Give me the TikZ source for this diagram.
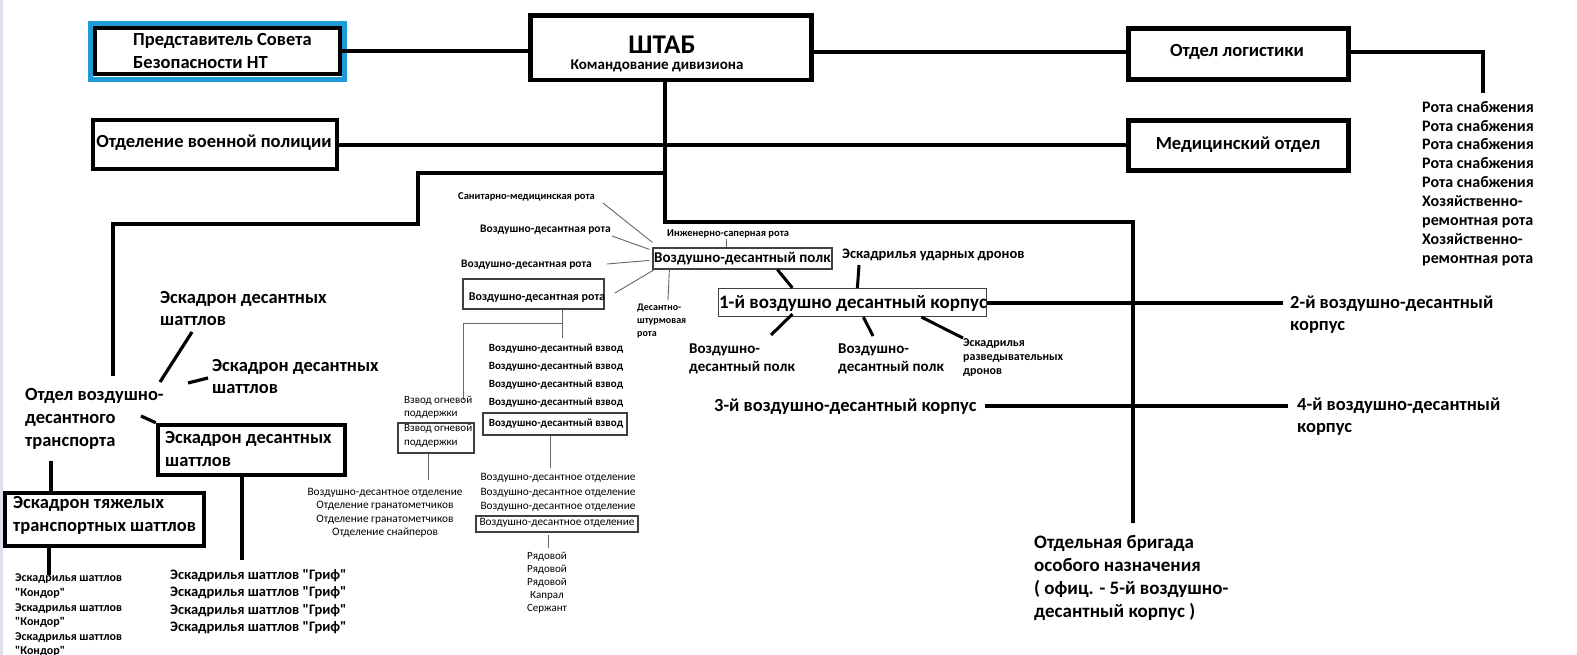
\documentclass[tikz,border=0pt]{standalone}
\usepackage{fontspec}
\setmainfont{Carlito}[Ligatures=TeXOff]
\newcommand\myfs[1]{\fontsize{#1}{#1}\selectfont}
\newcommand\mlines[7]{\foreach \lbl [count=\i from 0] in {#7} {\node[#1, anchor=#2] (#3\i) at (#4, #5+\i*#6) {\lbl};}}
\definecolor{repblue}{RGB}{30,155,215}
\definecolor{edgecol}{RGB}{220,226,236}
\begin{document}
\begin{tikzpicture}[x=1pt,y=-1pt,
  lblb/.style={font=\myfs{#1}\bfseries, inner sep=0pt, yshift={-0.32*#1*1pt}},
  lblr/.style={font=\myfs{#1}, inner sep=0pt, yshift={-0.32*#1*1pt}},
  hbox/.style={draw, line width=4.8pt, inner sep=0pt},
  sbox/.style={draw=black!75, line width=1.2pt, inner sep=0pt},
  conn/.style={line width=4.8pt},
  mconn/.style={line width=3.2pt},
  fconn/.style={line width=0.9pt, draw=black!60}]
\useasboundingbox (0,0) rectangle (1577,655);
\fill[white] (0,0) rectangle (1577,655);
\fill[edgecol] (0,0) rectangle (3,655);

% ---------- top row ----------
\node[draw=repblue, line width=5pt, inner sep=0pt, minimum width=254pt, minimum height=56pt] (repframe) at (217.5,51.5) {};
\node[hbox, line width=4.5pt, minimum width=245pt, minimum height=46pt] (rep) at (217.5,51) {};
\mlines{lblb=18.5}{base west}{rept}{133}{40}{23}{Представитель Совета,Безопасности НТ}

\node[hbox, minimum width=281pt, minimum height=64.5pt] (shtab) at (671,47.75) {};
\node[lblb=27, anchor=base] (shtabT) at (662,45) {ШТАБ};
\node[lblb=15, anchor=base] (shtabS) at (657,65) {Командование дивизиона};

\node[hbox, minimum width=220.5pt, minimum height=51.5pt] (log) at (1238.5,54) {};
\node[lblb=18.5, anchor=base] (logT) at (1237,51) {Отдел логистики};

\node[hbox, minimum width=244pt, minimum height=49pt] (mp) at (215,144.5) {};
\node[lblb=18.5, anchor=base] (mpT) at (214,142) {Отделение военной полиции};

\node[hbox, minimum width=220.5pt, minimum height=50.5pt] (med) at (1238.5,145.5) {};
\node[lblb=18.5, anchor=base] (medT) at (1238,144) {Медицинский отдел};

\mlines{lblb=16}{base west}{sup}{1422}{107}{18.9}{Рота снабжения,Рота снабжения,Рота снабжения,Рота снабжения,Рота снабжения,Хозяйственно-,ремонтная рота,Хозяйственно-,ремонтная рота}

% ---------- main connectors ----------
\coordinate (lg1) at (1483,52);
\coordinate (logend) at (1483,93);
\coordinate (mpy) at (0,145);
\coordinate (v1) at (665,222);
\coordinate (v2) at (1133,222);
\coordinate (brigtop) at (1133,523);
\coordinate (h1) at (665,173);
\coordinate (h2) at (418,173);
\coordinate (h3) at (418,224);
\coordinate (h4) at (113,224);
\coordinate (adtTop) at (113,376);

\draw[conn] (rep.east) -- (rep.east -| shtab.west);
\draw[conn] (shtab.east |- lg1) -- (log.west |- lg1);
\draw[conn] (log.east |- lg1) -- (lg1) -- (logend);
\draw[conn] (mp.east |- mpy) -- (med.west |- mpy);
\draw[conn] (shtab.south -| v1) -- (v1) -- (v2) -- (brigtop);
\draw[conn] (h1) -- (h2) -- (h3) -- (h4) -- (adtTop);

% ---------- left: air transport ----------
\mlines{lblb=18.5}{base west}{adt}{25}{395}{23}{Отдел воздушно-,десантного,транспорта}
\mlines{lblb=18.5}{base west}{esA}{160}{298}{22}{Эскадрон десантных,шаттлов}
\mlines{lblb=18.5}{base west}{esB}{212}{366}{22}{Эскадрон десантных,шаттлов}
\node[hbox, line width=4.5pt, minimum width=187pt, minimum height=50pt] (esC) at (251.5,450) {};
\mlines{lblb=18.5}{base west}{esCt}{165}{438}{23}{Эскадрон десантных,шаттлов}
\node[hbox, line width=4.5pt, minimum width=199pt, minimum height=53pt] (heavy) at (104.5,519.5) {};
\mlines{lblb=18.5}{base west}{heavyt}{13}{503}{23}{Эскадрон тяжелых,транспортных шаттлов}
\mlines{lblb=12}{base west}{kon}{15}{578}{14.6}{Эскадрилья шаттлов,"Кондор",Эскадрилья шаттлов,"Кондор",Эскадрилья шаттлов,"Кондор"}
\mlines{lblb=14.5}{base west}{grif}{170}{575}{17.3}{Эскадрилья шаттлов "Гриф",Эскадрилья шаттлов "Гриф",Эскадрилья шаттлов "Гриф",Эскадрилья шаттлов "Гриф"}

\coordinate (esAb) at (192,332);
\coordinate (adtR) at (160,382);
\coordinate (adtR2) at (188,383);
\coordinate (esBl) at (208,378);
\coordinate (adtR3) at (141,416);
\coordinate (hv) at (51,461);
\coordinate (kn) at (49,575);
\coordinate (gr) at (242,560);
\draw[mconn] (esAb) -- (adtR);
\draw[mconn] (adtR2) -- (esBl);
\draw[mconn] (adtR3) -- (esC.north west);
\draw[mconn, line width=4pt] (hv) -- (hv |- heavy.north);
\draw[mconn] (heavy.south -| kn) -- (kn);
\draw[mconn] (esC.south -| gr) -- (gr);

% ---------- middle: regiment ----------
\node[lblb=10.5, anchor=base west] (san) at (458,196) {Санитарно-медицинская рота};
\node[lblb=11.5, anchor=base west] (vdr1) at (480,229) {Воздушно-десантная рота};
\node[lblb=11.5, anchor=base west] (vdr2) at (461,264) {Воздушно-десантная рота};
\node[sbox, minimum width=141pt, minimum height=30pt] (rota) at (533.5,294) {};
\node[lblb=12, anchor=base] (rotaT) at (537,297) {Воздушно-десантная рота};
\node[lblb=10.5, anchor=base west] (ing) at (667,233) {Инженерно-саперная рота};
\node[sbox, minimum width=179pt, minimum height=21pt] (polk) at (742.5,258.5) {};
\node[lblb=15, anchor=base] (polkT) at (742.5,258) {Воздушно-десантный полк};
\mlines{lblb=10}{base west}{dsh}{637}{307}{13}{Десантно-,штурмовая,рота}

\coordinate (sanL) at (603,203);
\coordinate (vdr1L) at (612,236);
\coordinate (vdr2L) at (607,264);
\coordinate (rotaR) at (615,293);
\coordinate (dshT) at (668,300);
\coordinate (ingB) at (726,239);
\draw[fconn] (sanL) -- ([shift={(0,-5)}]polk.north west);
\draw[fconn] (vdr1L) -- ([shift={(-3,2)}]polk.north west);
\draw[fconn] (vdr2L) -- ([shift={(-3,13)}]polk.north west);
\draw[fconn] (rotaR) -- ([shift={(2,0)}]polk.south west);
\draw[fconn] ([xshift=17pt]polk.south west) -- (dshT);
\draw[fconn] (ingB) -- (ingB |- polk.north);

% platoons
\coordinate (vzT) at (562,338);
\coordinate (rj) at (562,323);
\coordinate (ognT) at (463,400);
\draw[fconn] (rota.south -| vzT) -- (vzT);
\draw[fconn] (rj) -| (ognT);
\mlines{lblb=11}{base}{vz}{556}{348}{18}{Воздушно-десантный взвод,Воздушно-десантный взвод,Воздушно-десантный взвод,Воздушно-десантный взвод}
\node[sbox, minimum width=144pt, minimum height=22pt] (vzb) at (555,424) {};
\node[lblb=11, anchor=base] (vzbT) at (556,423) {Воздушно-десантный взвод};
\mlines{lblr=11}{base west}{ogn}{404}{400}{13}{Взвод огневой,поддержки}
\node[sbox, minimum width=76pt, minimum height=30pt] (ognb) at (436,438) {};
\mlines{lblr=11}{base west}{ognbt}{404}{428}{14}{Взвод огневой,поддержки}

\coordinate (otdT) at (550,468);
\coordinate (otdLT) at (428,480);
\draw[fconn] (vzb.south -| otdT) -- (otdT);
\draw[fconn] (ognb.south -| otdLT) -- (otdLT);
\mlines{lblr=11.3}{base}{otdL}{385}{492}{13.3}{Воздушно-десантное отделение,Отделение гранатометчиков,Отделение гранатометчиков,Отделение снайперов}
\mlines{lblr=11.3}{base}{otdR}{558}{477}{14.6}{Воздушно-десантное отделение,Воздушно-десантное отделение,Воздушно-десантное отделение}
\node[sbox, minimum width=162pt, minimum height=16pt] (otdb) at (557,524) {};
\node[lblr=11.3, anchor=base] (otdbT) at (557,522) {Воздушно-десантное отделение};
\coordinate (rA) at (548,535);
\coordinate (rB) at (548,548);
\draw[fconn] (rA) -- (rB);
\mlines{lblr=11}{base}{ryad}{547}{556}{13}{Рядовой,Рядовой,Рядовой,Капрал,Сержант}

% ---------- corps ----------
\node[lblb=14.5, anchor=base west] (udr) at (842,254) {Эскадрилья ударных дронов};
\node[sbox, minimum width=268pt, minimum height=28pt] (corps) at (852.5,302.5) {};
\node[lblb=19, anchor=base] (corpsT) at (853,302) {1-й воздушно десантный корпус};
\mlines{lblb=15}{base west}{pA}{689}{349}{18}{Воздушно-,десантный полк}
\mlines{lblb=15}{base west}{pB}{838}{349}{18}{Воздушно-,десантный полк}
\mlines{lblb=12}{base west}{razv}{963}{343}{14}{Эскадрилья,разведывательных,дронов}

\coordinate (udrB) at (859,265);
\coordinate (pAT) at (771,335);
\coordinate (pBT) at (873,336);
\coordinate (razvT) at (963,338);
\draw[mconn, line width=3pt] ([xshift=125pt]polk.south west) -- ([xshift=74.5pt]corps.north west);
\draw[mconn, line width=3pt] (udrB) -- ([xshift=139.5pt]corps.north west);
\draw[mconn, line width=3pt] ([shift={(74.5,-3)}]corps.south west) -- (pAT);
\draw[mconn, line width=3pt] ([xshift=145.5pt]corps.south west) -- (pBT);
\draw[mconn, line width=3pt] ([xshift=203.5pt]corps.south west) -- (razvT);

\node[lblb=18.5, anchor=base west] (c3) at (714,406) {3-й воздушно-десантный корпус};
\mlines{lblb=18.5}{base west}{c2t}{1290}{303}{22}{2-й воздушно-десантный,корпус}
\mlines{lblb=18.5}{base west}{c4t}{1297}{405}{22}{4-й воздушно-десантный,корпус}
\mlines{lblb=19}{base west}{brig}{1034}{542}{23}{Отдельная бригада,особого назначения,{( офиц. - 5-й воздушно-},десантный корпус )}

\coordinate (c2e) at (1283,303);
\coordinate (c3a) at (985,406);
\coordinate (c4e) at (1288,406);
\draw[conn] (corps.east |- c2e) -- (c2e);
\draw[conn] (c3a) -- (c4e);
\end{tikzpicture}
\end{document}
